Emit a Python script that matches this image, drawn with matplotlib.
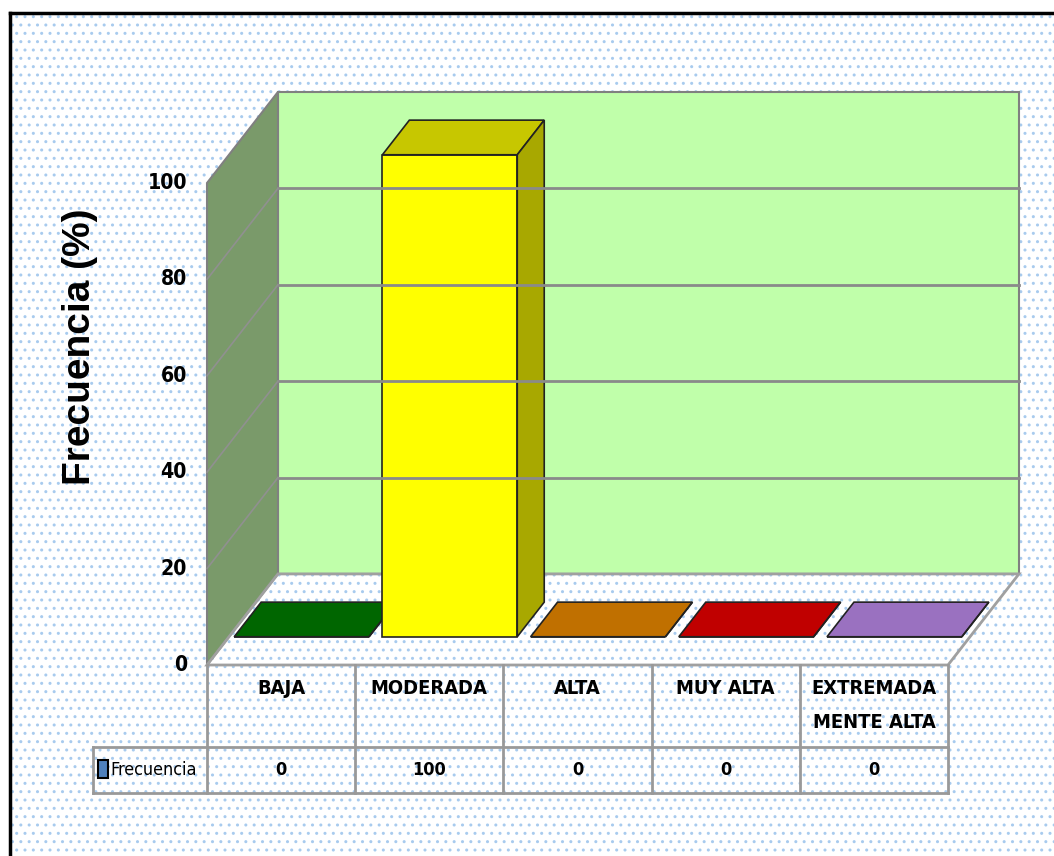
import numpy as np
import matplotlib.pyplot as plt
from matplotlib import font_manager
from matplotlib import colors as mcolors
from matplotlib.patches import Polygon, Rectangle
from matplotlib.lines import Line2D

# ---------------- data ----------------
categories = ["BAJA", "MODERADA", "ALTA", "MUY ALTA", "EXTREMADA\nMENTE ALTA"]
values = [0, 100, 0, 0, 0]
series_name = "Frecuencia"
y_ticks = [0, 20, 40, 60, 80, 100]
y_label = "Frecuencia (%)"

# ---------------- style ----------------
bar_colors = ["#008300", "#FFFF00", "#F68F00", "#F60000", "#C691F6"]
WALL_BACK = "#C0FFAA"
WALL_SIDE = "#7A9A6A"
GRID_COL = "#8A8A8A"
LEGEND_KEY = "#4F81BD"

# oblique depth of the 3d box (in category / value units) and bar depth span
DX, DY = 0.479, 18.9
F0, F1 = 0.31, 0.69
BAR_W = 0.91


def narrow_font(bold):
    # look for a condensed / narrow face, otherwise plain Liberation Sans
    best = None
    for f in font_manager.fontManager.ttflist:
        cond = (f.stretch in ("condensed", "semi-condensed", "extra-condensed")
                or "Narrow" in f.name or "Condensed" in f.name)
        if not cond or "Italic" in f.fname or f.style != "normal":
            continue
        w = f.weight if isinstance(f.weight, int) else (700 if "bold" in str(f.weight) else 400)
        if (w >= 600) != bold:
            continue
        if best is None or "Liberation" in f.name or "Arial" in f.name:
            best = f
    if best is not None:
        return font_manager.FontProperties(fname=best.fname)
    return font_manager.FontProperties(family="Liberation Sans",
                                       weight="bold" if bold else "normal")


def darken(c, k):
    r, g, b = mcolors.to_rgb(c)
    return (r * k, g * k, b * k)


def at_depth(pts, d):
    return [(x + d * DX, y + d * DY) for x, y in pts]


W, H = 1054, 856
fig = plt.figure(figsize=(W / 100, H / 100), dpi=100)
renderer = fig.canvas.get_renderer()


def sized(fp, sample, width_px, cap=None):
    # font size that makes `sample` span width_px pixels
    p = fp.copy()
    p.set_size(10)
    t = fig.text(0, 0, sample, fontproperties=p)
    w = t.get_window_extent(renderer).width
    t.remove()
    s = 10 * width_px / w
    if cap is not None:
        s = min(s, cap)
    p.set_size(s)
    return p


FP_BOLD = narrow_font(True)
FP_REG = narrow_font(False)
fp_tick = sized(FP_BOLD, "100", 40, cap=19)
fp_cat = sized(FP_BOLD, "MODERADA", 116, cap=18)
fp_val = sized(FP_BOLD, "100", 34, cap=18)
fp_leg = sized(FP_REG, series_name, 87, cap=17)
fp_label = font_manager.FontProperties(family="Liberation Sans", weight="bold", size=28)

# dotted chart-area background with a black frame
fig.patches.append(Rectangle((10 / W, 0), 1.0, 1 - 13 / H, transform=fig.transFigure,
                             facecolor="white", edgecolor="#A8CBEE", hatch="..",
                             linewidth=0, zorder=-10))
fig.lines.append(Line2D([10 / W, 10 / W], [0, 1 - 13 / H], transform=fig.transFigure,
                        color="black", lw=2.5))
fig.lines.append(Line2D([10 / W, 1], [1 - 13 / H, 1 - 13 / H], transform=fig.transFigure,
                        color="black", lw=2.5))

n = len(categories)
ax = fig.add_axes([207 / W, 1 - 665 / H, 741 / W, 482 / H])
ax.set_xlim(0, n)
ax.set_ylim(0, 100)
ax.axis("off")


def poly(pts, **kw):
    p = Polygon(pts, closed=True, clip_on=False, **kw)
    ax.add_patch(p)
    return p


# walls
top = y_ticks[-1]
poly(at_depth([(0, 0), (n, 0), (n, top), (0, top)], 1.0),
     facecolor=WALL_BACK, edgecolor="#808080", lw=1.5)
poly([(0, 0), (DX, DY), (DX, top + DY), (0, top)],
     facecolor=WALL_SIDE, edgecolor="#808080", lw=1.5)
for v in y_ticks[1:-1]:
    ax.plot([DX, n + DX], [v + DY, v + DY], color=GRID_COL, lw=2, clip_on=False)
    ax.plot([0, DX], [v, v + DY], color="#909090", lw=1.2, clip_on=False)

# floor
poly([(0, 0), (n, 0), (n + DX, DY), (DX, DY)], fill=False, edgecolor="#A0A0A0", lw=2)

# bars
for i, (v, c) in enumerate(zip(values, bar_colors)):
    x0 = i + (1 - BAR_W) / 2 - 0.01
    x1 = x0 + BAR_W
    poly(at_depth([(x0, 0), (x1, 0), (x1, v), (x0, v)], F0),
         facecolor=c, edgecolor="#222222", lw=1.2)
    poly(at_depth([(x0, v), (x1, v)], F0) + at_depth([(x1, v), (x0, v)], F1),
         facecolor=darken(c, 0.78), edgecolor="#222222", lw=1.2)
    poly(at_depth([(x1, 0), (x1, v)], F0) + at_depth([(x1, v), (x1, 0)], F1),
         facecolor=darken(c, 0.66), edgecolor="#222222", lw=1.2)

# y axis
for v in y_ticks:
    ax.text(-0.135, v, str(v), ha="right", va="center", fontproperties=fp_tick,
            clip_on=False)
ax.text(-0.855, 66, y_label, rotation=90, ha="center", va="center",
        fontproperties=fp_label)

# data table under the floor
ROW1, ROW2, LEFT = -17.0, -26.6, -0.769
tkw = dict(color="#999999", lw=2, clip_on=False)
for i in range(n + 1):
    ax.plot([i, i], [0, ROW2], **tkw)
ax.plot([LEFT, n], [ROW1, ROW1], **tkw)
ax.plot([LEFT, n], [ROW2, ROW2], **tkw)
ax.plot([LEFT, LEFT], [ROW1, ROW2], **tkw)

for i, (cat, v) in enumerate(zip(categories, values)):
    ax.text(i + 0.5, -2.9, cat, ha="center", va="top", fontproperties=fp_cat,
            linespacing=2.0)
    ax.text(i + 0.5, -21.8, str(v), ha="center", va="center", fontproperties=fp_val)

ax.add_patch(Rectangle((-0.735, -23.4), 0.067, 3.73, facecolor=LEGEND_KEY,
                       edgecolor="black", lw=1.5, clip_on=False))
ax.text(-0.652, -21.8, series_name, ha="left", va="center", fontproperties=fp_leg)

fig.savefig("out.png", dpi=100)
